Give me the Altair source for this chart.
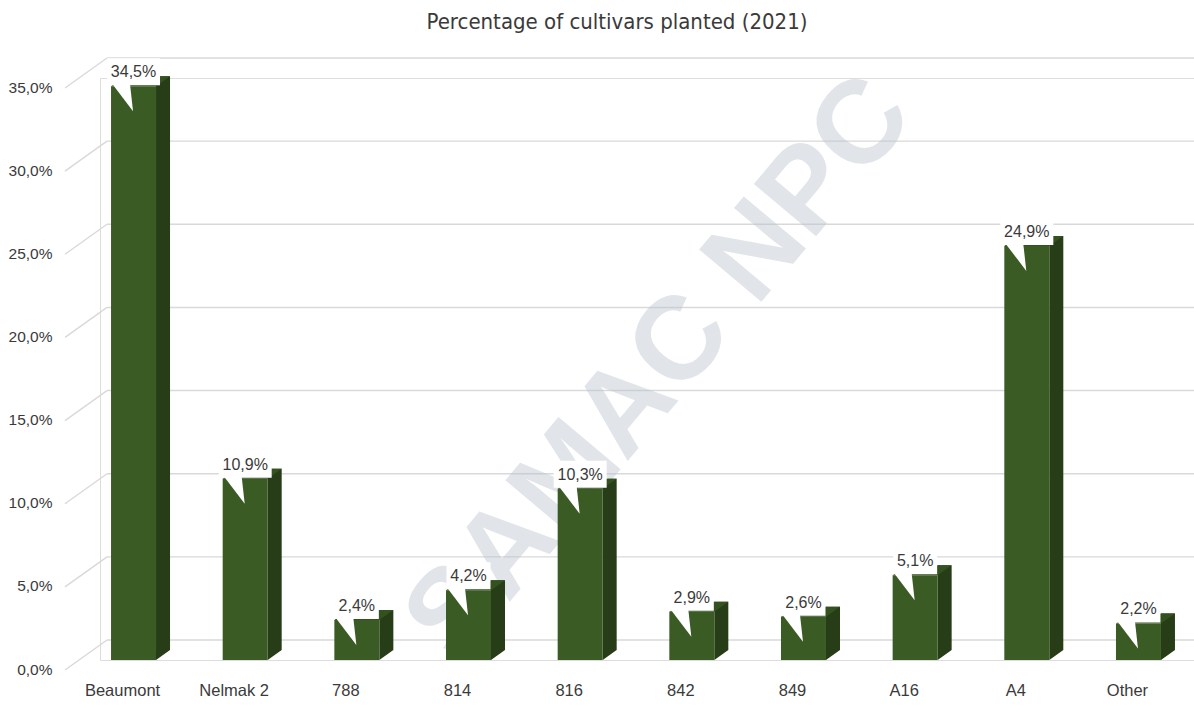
import altair as alt
import pandas as pd

# ---- data ----
cultivars = ["Beaumont", "Nelmak 2", "788", "814", "816", "842", "849", "A16", "A4", "Other"]
shares = [34.5, 10.9, 2.4, 4.2, 10.3, 2.9, 2.6, 5.1, 24.9, 2.2]
tick_values = [0, 5, 10, 15, 20, 25, 30, 35]
title_text = "Percentage of cultivars planted (2021)"
watermark_text = "SAMAC NPC"

df = pd.DataFrame({"cultivar": cultivars, "share": shares})
df["label"] = [f"{v:.1f}".replace(".", ",") + "%" for v in shares]
ticks_df = pd.DataFrame({"t": tick_values})
one_df = pd.DataFrame({"k": [0]})

W, H = 1094, 582
FRONT = "#3b5b24"
SIDE = "#263d17"
TOP = "#34521f"
GRID = "#d9d9d9"
TXT = "#3a3a3a"
FONT = "Liberation Sans"
NARROW = "Liberation Sans Narrow, Arial Narrow, DejaVu Sans Condensed, sans-serif"

xs = alt.Scale(domain=cultivars, range=[-22.3, 1094.3], paddingInner=0, paddingOuter=0)
ys = alt.Scale(domain=[0, 35], nice=False, zero=True)

y_axis = alt.Axis(title=None, values=tick_values, grid=False, domain=False,
                  ticks=False, labelPadding=48, labelOffset=9, labelFontSize=15.5,
                  labelFont=FONT, labelColor=TXT,
                  labelExpr="replace(format(datum.value, '.1f'), '.', ',') + '%'")

X = alt.X("cultivar:N", scale=xs, sort=cultivars,
          axis=alt.Axis(title=None, labelAngle=0, domain=False, ticks=False,
                        labelPadding=22, labelOffset=-11, labelFontSize=16.5,
                        labelFont=FONT, labelColor=TXT, labelBaseline="top"))
Y = alt.Y("share:Q", scale=ys, axis=y_axis)
YT = alt.Y("t:Q", scale=ys, axis=y_axis)

base = alt.Chart(df)

# gridlines on the back wall
grid = alt.Chart(ticks_df).mark_rule(color=GRID, strokeWidth=1.4, yOffset=-20).encode(
    y=YT, x=alt.value(7), x2=alt.value(W))
# slanted connectors from the labels to the back wall
diag = alt.Chart(ticks_df).mark_rule(color=GRID, strokeWidth=1.4, yOffset=10, y2Offset=-20).encode(
    y=YT, y2="t:Q", x=alt.value(-35), x2=alt.value(7))

watermark = alt.Chart(one_df).mark_text(
    angle=310, fontSize=118, font=FONT, fontWeight="bold", color="#b8c2ce", opacity=0.42,
    align="center", baseline="middle").encode(
    x=alt.value(560), y=alt.value(290), text=alt.value(watermark_text))

side = base.mark_bar(color=SIDE, width=14, xOffset=29.5, yOffset=-10, y2Offset=-10).encode(
    x=X, y=Y, y2=alt.datum(0))
side_bottom = base.mark_point(shape="M22.5,-10 L36.5,-10 L22.5,0 Z", size=4, filled=True,
                              fill=SIDE, strokeWidth=0, opacity=1).encode(
    x=X, y=alt.datum(0))
top = base.mark_point(shape="M-22.5,0 L22.5,0 L36.5,-10 L-8.5,-10 Z", size=4, filled=True,
                      fill=TOP, strokeWidth=0, opacity=1).encode(x=X, y=Y)
front = base.mark_bar(color=FRONT, width=45).encode(x=X, y=Y, y2=alt.datum(0))

box = base.transform_calculate(bw="length(datum.label) * 9 + 8").mark_bar(
    color="white", yOffset=-28, y2Offset=-1).encode(
    x=X, y=Y, y2="share:Q", size=alt.Size("bw:Q", scale=None, legend=None))
pointer = base.mark_point(shape="M-21,-2 L-3.5,-2 L-0.5,25 Z", size=4, filled=True,
                          fill="white", strokeWidth=0, opacity=1).encode(x=X, y=Y)
labels = base.mark_text(yOffset=-14, fontSize=16, font=FONT, color=TXT,
                        baseline="middle", align="center").encode(
    x=X, y=Y, text="label:N")

title = alt.Chart(one_df).mark_text(fontSize=22, font=NARROW, color=TXT,
                                    align="center", baseline="middle").encode(
    x=alt.value(517), y=alt.value(-56), text=alt.value(title_text))

chart = alt.layer(grid, diag, watermark, side, side_bottom, top, front, box, pointer,
                  labels, title).properties(
    width=W, height=H,
    autosize=alt.AutoSizeParams(type="none"),
    padding={"left": 100, "top": 78, "right": 0, "bottom": 45},
).configure_view(stroke=None).configure(background="white")

chart.save("out.html", embed_options={"renderer": "svg", "actions": False})
